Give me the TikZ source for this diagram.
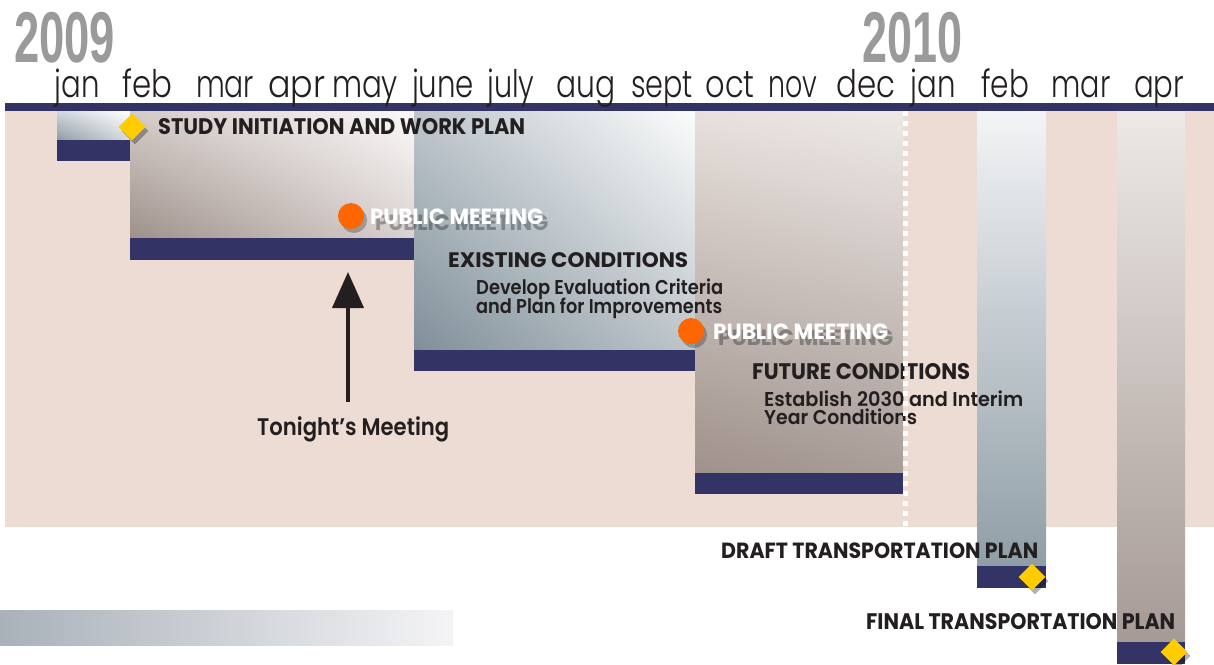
\documentclass[tikz,border=0pt]{standalone}
\usepackage{fontspec}
\usepackage{graphicx}
\usetikzlibrary{arrows.meta,shadings,shapes.geometric}
\IfFontExistsTF{Poppins Light}{\newfontfamily\monthfont{Poppins Light}}{\newfontfamily\monthfont{Poppins}}
\newfontfamily\labfontbase{Poppins}
\newcommand\labfont{\labfontbase\bfseries}
\IfFontExistsTF{Poppins SemiBold}{\newfontfamily\subfont{Poppins SemiBold}}{\newcommand\subfont{\labfontbase\bfseries}}
\newfontfamily\yearfont{Liberation Sans}
\newcommand\fitw[2]{\resizebox{#1pt}{\height}{#2}}
\definecolor{navy}{HTML}{333366}
\definecolor{pinkbg}{HTML}{EDDCD4}
\definecolor{ink}{HTML}{231F20}
\definecolor{yeargray}{HTML}{9A9A9A}
\definecolor{gold}{HTML}{FFCC00}
\definecolor{orng}{HTML}{FF6600}
\begin{document}
\begin{tikzpicture}[x=1pt,y=-1pt,
  month/.style={inner sep=0pt,anchor=base,text=ink,font=\monthfont\fontsize{38}{42}\selectfont},
  year/.style={inner sep=0pt,anchor=base west,text=yeargray,font=\yearfont\bfseries\fontsize{72}{76}\selectfont},
  caplab/.style={inner sep=0pt,anchor=base west,text=ink,font=\labfont\fontsize{22.5}{24}\selectfont},
  sublab/.style={inner sep=0pt,anchor=base west,text=ink,font=\subfont\fontsize{20}{22}\selectfont},
  pmlab/.style={inner sep=0pt,anchor=base west,text=white,font=\labfont\fontsize{22}{24}\selectfont},
  pmshadow/.style={inner sep=0pt,anchor=base west,text=black,text opacity=0.3,font=\labfont\fontsize{22}{24}\selectfont},
  bar/.style={fill=navy},
  milestone/.style={diamond,fill=gold,minimum width=27pt,minimum height=27pt,inner sep=0pt},
  mshadow/.style={diamond,fill=black,fill opacity=0.3,minimum width=27pt,minimum height=27pt,inner sep=0pt},
  meeting/.style={circle,fill=orng,minimum size=26pt,inner sep=0pt},
  cshadow/.style={circle,fill=black,fill opacity=0.25,minimum size=26pt,inner sep=0pt},
  pointer/.style={draw=ink,line width=4pt,-{Triangle[width=31pt,length=36pt]}},
  sepline/.style={draw=white,line width=5pt,dash pattern=on 5pt off 5pt}]
\useasboundingbox (0,0) rectangle (1214,664);
\fill[white] (0,0) rectangle (1214,664);
% background band
\fill[pinkbg] (5,111) rectangle (1214,527);
% bottom-left gradient bar
\shade[left color={rgb,255:red,169;green,177;blue,185}, right color={rgb,255:red,244;green,244;blue,246}] (0,610) rectangle (453,645);
% task boxes
\shade[upper left={rgb,255:red,210;green,215;blue,219}, upper right=white, lower left={rgb,255:red,142;green,155;blue,164}, lower right={rgb,255:red,214;green,218;blue,221}] (57,111) rectangle (130,140);
\shade[upper left={rgb,255:red,212;green,203;blue,200}, upper right={rgb,255:red,250;green,249;blue,248}, lower left={rgb,255:red,158;green,145;blue,139}, lower right={rgb,255:red,218;green,210;blue,208}] (130,111) rectangle (414,238);
\shade[upper left={rgb,255:red,190;green,198;blue,204}, upper right={rgb,255:red,251;green,252;blue,252}, lower left={rgb,255:red,127;green,143;blue,153}, lower right={rgb,255:red,190;green,198;blue,203}] (414,111) rectangle (695,350);
\shade[upper left={rgb,255:red,231;green,224;blue,220}, upper right={rgb,255:red,238;green,233;blue,230}, lower left={rgb,255:red,159;green,145;blue,139}, lower right={rgb,255:red,169;green,157;blue,152}] (695,111) rectangle (903,473);
\shade[top color={rgb,255:red,243;green,244;blue,246}, bottom color={rgb,255:red,143;green,158;blue,166}] (977,111) rectangle (1046,566);
\shade[top color={rgb,255:red,237;green,233;blue,230}, bottom color={rgb,255:red,166;green,154;blue,149}] (1117,111) rectangle (1185,642);
% navy bars
\fill[bar] (5,103) rectangle (1214,111);
\fill[bar] (57,140) rectangle (130,161);
\fill[bar] (130,238) rectangle (414,260);
\fill[bar] (414,350) rectangle (695,371);
\fill[bar] (695,473) rectangle (903,494);
\fill[bar] (977,566) rectangle (1046,588);
\fill[bar] (1117,642) rectangle (1185,664);
% years
\node[year] (y2009) at (14,62) {\fitw{101}{2009}};
\node[year] (y2010) at (862,62) {\fitw{100}{2010}};
% months
\node[month] (m1) at (77,97) {\fitw{45}{jan}};
\node[month] (m2) at (147,97) {\fitw{50}{feb}};
\node[month] (m3) at (225,97) {\fitw{58}{mar}};
\node[month] (m4) at (297,97) {\fitw{57}{apr}};
\node[month] (m5) at (365,97) {\fitw{66}{may}};
\node[month] (m6) at (443,97) {\fitw{62}{june}};
\node[month] (m7) at (511,97) {\fitw{47}{july}};
\node[month] (m8) at (586,97) {\fitw{59}{aug}};
\node[month] (m9) at (662,97) {\fitw{62}{sept}};
\node[month] (m10) at (730,97) {\fitw{49}{oct}};
\node[month] (m11) at (793,97) {\fitw{49}{nov}};
\node[month] (m12) at (866,97) {\fitw{59}{dec}};
\node[month] (m13) at (933,97) {\fitw{45}{jan}};
\node[month] (m14) at (1005,97) {\fitw{48}{feb}};
\node[month] (m15) at (1081,97) {\fitw{59}{mar}};
\node[month] (m16) at (1159,97) {\fitw{50}{apr}};
% task labels
\node[caplab] (study) at (158,134) {\fitw{367}{STUDY INITIATION AND WORK PLAN}};
\node[caplab,font=\labfont\fontsize{21}{23}\selectfont] (exist) at (448,267) {\fitw{240}{EXISTING CONDITIONS}};
\node[sublab] (exist1) at (476,294) {\fitw{247}{Develop Evaluation Criteria}};
\node[sublab] (exist2) at (476,313) {\fitw{246}{and Plan for Improvements}};
\node[caplab] (future) at (752,379) {\fitw{218}{FUTURE CONDITIONS}};
\node[sublab] (future1) at (764,406) {\fitw{259}{Establish 2030 and Interim}};
\node[sublab] (future2) at (764,424) {\fitw{153}{Year Conditions}};
\node[sublab,font=\subfont\fontsize{24}{26}\selectfont] (tonight) at (257,435) {\fitw{192}{Tonight’s Meeting}};
\node[caplab,font=\labfont\fontsize{22}{24}\selectfont] (draft) at (721,558) {\fitw{317}{DRAFT TRANSPORTATION PLAN}};
\node[caplab] (final) at (866,629) {\fitw{309}{FINAL TRANSPORTATION PLAN}};
% public meetings
\node[pmshadow] (pm1s) at (375,230) {\fitw{173}{PUBLIC MEETING}};
\node[pmlab] (pm1) at (370,224) {\fitw{173}{PUBLIC MEETING}};
\node[pmshadow] (pm2s) at (718,345) {\fitw{175}{PUBLIC MEETING}};
\node[pmlab] (pm2) at (713,339) {\fitw{175}{PUBLIC MEETING}};
\node[cshadow] (c1s) at (354,220) {};
\node[meeting] (c1) at (351,216) {};
\node[cshadow] (c2s) at (694,335) {};
\node[meeting] (c2) at (691,331) {};
% tonight arrow
\coordinate (ahead) at (348,272);
\draw[pointer,shorten <=14pt] (tonight.north -| ahead) -- (ahead);
% year separator
\coordinate (dtop) at (905,111);
\coordinate (dbot) at (905,527);
\draw[sepline] (dtop) -- (dbot);
% milestones
\node[mshadow] (d1s) at (135,131) {};
\node[milestone] (d1) at (132,127) {};
\node[mshadow] (d2s) at (1035,581) {};
\node[milestone] (d2) at (1032,577) {};
\node[mshadow] (d3s) at (1177,656) {};
\node[milestone] (d3) at (1174,652) {};
\end{tikzpicture}
\end{document}
